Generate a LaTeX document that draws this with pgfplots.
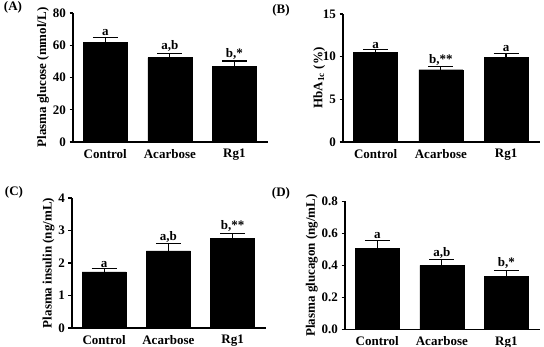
\documentclass[border=0pt]{standalone}
\usepackage{fontspec}
\setmainfont{Liberation Serif}
\usepackage{pgfplots}
\pgfplotsset{compat=1.18}

\pgfplotsset{
  panel/.style={
    scale only axis, width=195pt, height=129pt,
    axis x line*=bottom, axis y line*=left,
    axis line style={line width=1.2pt, black},
    xmin=-0.5, xmax=2.52,
    xtick={0,1,2}, xticklabels={Control,Acarbose,Rg1},
    x tick style={draw=none},
    y tick style={line width=1.1pt, black},
    tick align=outside, major tick length=3.5pt,
    ymin=0,
    ybar, bar width=44pt,
    ticklabel style={font=\fontsize{13}{14}\selectfont\bfseries},
    label style={font=\fontsize{13}{14}\selectfont\bfseries},
    ylabel shift=-3pt,
    /pgf/number format/assume math mode=true,
    clip=false,
  },
  sembar/.style={
    fill=black, draw=black,
    error bars/.cd, y dir=plus, y explicit,
    error bar style={line width=1.2pt, black},
    error mark options={rotate=90, mark size=12.5pt, line width=1.2pt, black},
  },
}
\tikzset{sig/.style={above, inner sep=1.5pt, font=\fontsize{13}{14}\selectfont\bfseries}}

\begin{document}
\begin{tikzpicture}
\useasboundingbox (0pt,0pt) rectangle (544pt,347pt);

% (A) plasma glucose
\begin{axis}[panel, at={(73pt,205pt)}, anchor=south west,
    ymax=80, ytick={0,20,40,60,80},
    ylabel={Plasma glucose (mmol/L)}]
  \addplot[sembar] coordinates {(0,61.6) +- (0,3.4) (1,52.3) +- (0,2.7) (2,46.7) +- (0,3.5)};
  \node[sig] at (axis cs:0,65.0) {a};
  \node[sig] at (axis cs:1,55.0) {a,b};
  \node[sig] at (axis cs:2,50.2) {b,*};
\end{axis}

% (B) HbA1c
\begin{axis}[panel, at={(343pt,205pt)}, anchor=south west, width=197pt, height=128pt,
    ymax=15, ytick={0,5,10,15},
    ylabel={HbA\textsubscript{1c} (\%)},
    ylabel style={yshift=-6pt}]
  \addplot[sembar] coordinates {(0,10.47) +- (0,0.33) (1,8.47) +- (0,0.33) (2,9.88) +- (0,0.47)};
  \node[sig] at (axis cs:0,10.8) {a};
  \node[sig] at (axis cs:1,8.8) {b,**};
  \node[sig] at (axis cs:2,10.35) {a};
\end{axis}

% (C) plasma insulin
\begin{axis}[panel, at={(72pt,19pt)}, anchor=south west, width=194pt, height=130pt,
    ymax=4, ytick={0,1,2,3,4},
    ylabel={Plasma insulin (ng/mL)}]
  \addplot[sembar] coordinates {(0,1.73) +- (0,0.09) (1,2.37) +- (0,0.22) (2,2.76) +- (0,0.15)};
  \node[sig] at (axis cs:0,1.82) {a};
  \node[sig] at (axis cs:1,2.59) {a,b};
  \node[sig] at (axis cs:2,2.91) {b,**};
\end{axis}

% (D) plasma glucagon
\begin{axis}[panel, at={(345pt,17.3pt)}, anchor=south west, height=128.4pt,
    ymax=0.8, ytick={0,0.2,0.4,0.6,0.8},
    yticklabel style={/pgf/number format/.cd, fixed, fixed zerofill, precision=1},
    ylabel={Plasma glucagon (ng/mL)}]
  \addplot[sembar] coordinates {(0,0.509) +- (0,0.046) (1,0.401) +- (0,0.035) (2,0.333) +- (0,0.037)};
  \node[sig] at (axis cs:0,0.555) {a};
  \node[sig] at (axis cs:1,0.436) {a,b};
  \node[sig] at (axis cs:2,0.370) {b,*};
\end{axis}

% panel letters
\begin{scope}[every node/.style={font=\fontsize{13}{14}\selectfont\bfseries}]
  \node at (13pt,340pt) {(A)};
  \node at (281pt,337pt) {(B)};
  \node at (14pt,155pt) {(C)};
  \node at (281pt,154pt) {(D)};
\end{scope}
\end{tikzpicture}
\end{document}
